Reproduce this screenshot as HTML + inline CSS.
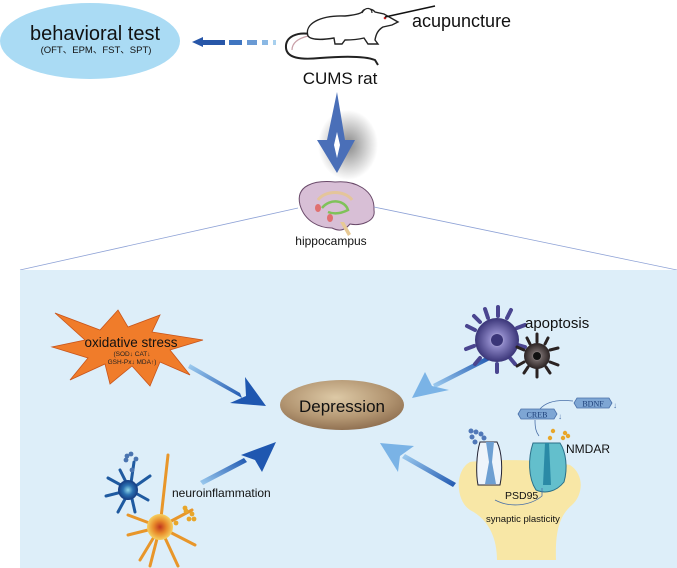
<!DOCTYPE html>
<html><head><meta charset="utf-8"><style>
html,body{margin:0;padding:0;background:#fff;}
svg{display:block;font-family:"Liberation Sans",Arial,sans-serif;}
</style></head><body>
<svg width="677" height="568" viewBox="0 0 677 568" xmlns="http://www.w3.org/2000/svg">
<defs>
<radialGradient id="dep" cx="45%" cy="35%" r="70%"><stop offset="0" stop-color="#ddc9a6"/><stop offset="0.6" stop-color="#b39672"/><stop offset="1" stop-color="#8a6a4c"/></radialGradient>
<linearGradient id="ar1" x1="0" y1="0" x2="1" y2="1"><stop offset="0" stop-color="#9fcdf0"/><stop offset="1" stop-color="#1f57b0"/></linearGradient>
<linearGradient id="ar2" x1="1" y1="0" x2="0" y2="1"><stop offset="0" stop-color="#1f57b0"/><stop offset="1" stop-color="#9fcdf0"/></linearGradient>
<linearGradient id="ar3" x1="1" y1="0" x2="0" y2="1"><stop offset="0" stop-color="#1f57b0"/><stop offset="1" stop-color="#9fcdf0"/></linearGradient>
<linearGradient id="ar4" x1="1" y1="1" x2="0" y2="0"><stop offset="0" stop-color="#1f57b0"/><stop offset="1" stop-color="#9fcdf0"/></linearGradient>
<radialGradient id="ap1"><stop offset="0" stop-color="#f0eefa"/><stop offset="0.35" stop-color="#8a84c4"/><stop offset="1" stop-color="#3a3578"/></radialGradient>
<radialGradient id="ap2"><stop offset="0" stop-color="#ddd"/><stop offset="0.4" stop-color="#6a6060"/><stop offset="1" stop-color="#2a2222"/></radialGradient>
<radialGradient id="gl1"><stop offset="0" stop-color="#8fd6e8"/><stop offset="0.5" stop-color="#2a6fb0"/><stop offset="1" stop-color="#143a80"/></radialGradient>
<radialGradient id="gl2"><stop offset="0" stop-color="#c0361e"/><stop offset="0.5" stop-color="#e88a2a"/><stop offset="1" stop-color="#f5d060"/></radialGradient>
<radialGradient id="shadow"><stop offset="0" stop-color="#555" stop-opacity="0.7"/><stop offset="1" stop-color="#555" stop-opacity="0"/></radialGradient>
</defs>

<!-- top -->
<ellipse cx="90" cy="41" rx="90" ry="38" fill="#aadbf4"/>
<text x="95" y="40" font-size="20" text-anchor="middle" fill="#111">behavioral test</text>
<text x="96" y="53" font-size="9.5" text-anchor="middle" fill="#111">(OFT、EPM、FST、SPT)</text>
<polygon points="192,42 203,37 203,47" fill="#2756a8"/>
<rect x="203" y="40" width="22" height="5" fill="#2756a8"/>
<rect x="229" y="40" width="13" height="5" fill="#3f75c0"/>
<rect x="247" y="40" width="10" height="5" fill="#6a9ad4"/>
<rect x="262" y="40" width="6" height="5" fill="#8ab8e4"/>
<rect x="273" y="40" width="3" height="5" fill="#a8d0ee"/>
<!-- rat -->
<path d="M310,34 C298,32 285,36 286,48 C287,58 300,60 320,58 C345,56 365,56 375,60 L378,65" fill="none" stroke="#222" stroke-width="2"/>
<path d="M308,36 C300,38 292,42 292,50" fill="none" stroke="#c9a0a8" stroke-width="1.2"/>
<path d="M308,36 C304,24 320,15 345,16 C355,15 360,14 362,12 C364,8 372,8 375,12 L384,14 L398,22 L392,25 L383,27 C378,30 376,34 375,40 L378,44 L368,44 L364,38 C356,40 350,40 345,40 L342,44 L335,44 L334,38 C322,40 311,40 308,36 Z" fill="#fff" stroke="#222" stroke-width="1.4"/>
<path d="M362,13 C366,6 372,8 372,13" fill="#fff" stroke="#222" stroke-width="1.2"/>
<circle cx="385" cy="18" r="1.3" fill="#c22"/>
<line x1="385" y1="17" x2="435" y2="6" stroke="#111" stroke-width="1.5"/>
<text x="412" y="27" font-size="18" fill="#111">acupuncture</text>
<text x="340" y="84" font-size="17" text-anchor="middle" fill="#111">CUMS rat</text>
<!-- big arrow -->
<ellipse cx="348" cy="145" rx="30" ry="35" fill="url(#shadow)"/>
<polygon points="337,92 345,140 355,140 337,173 317,140 327,140" fill="#4a6fb8"/>
<polygon points="337,132 340,145 337,158 334,145" fill="#fff"/>
<!-- brain -->
<path d="M300,205 C295,185 315,180 335,182 C355,180 375,190 374,210 C376,222 360,226 350,224 C345,230 340,232 332,228 C320,228 305,222 300,205 Z" fill="#d8bfd6" stroke="#6a4a6a" stroke-width="1"/>
<path d="M318,200 C325,190 345,190 352,200" fill="none" stroke="#e4c59a" stroke-width="3"/>
<path d="M322,208 C330,198 345,200 348,210 C340,214 333,214 328,212" fill="none" stroke="#7fc25a" stroke-width="2.5"/>
<ellipse cx="318" cy="208" rx="3" ry="4" fill="#e07070"/>
<ellipse cx="330" cy="218" rx="3" ry="4" fill="#e07070"/>
<path d="M340,222 L348,236 L351,234 L344,222 Z" fill="#e7c994"/>
<text x="331" y="245" font-size="12" text-anchor="middle" fill="#111">hippocampus</text>
<line x1="298" y1="208" x2="20" y2="270" stroke="#8ea2d6" stroke-width="0.8"/>
<line x1="374" y1="207" x2="677" y2="270" stroke="#8ea2d6" stroke-width="0.8"/>

<!-- panel -->
<rect x="20" y="270" width="657" height="298" fill="#ddeef9"/>

<!-- starburst -->
<polygon points="55,313 100,330 118,310 128,327 160,315 152,332 203,340 170,350 190,375 160,362 150,386 132,366 110,384 105,364 70,380 88,358 52,347 85,340" fill="#f07c2a" stroke="#c8541a" stroke-width="0.8"/>
<text x="131" y="347" font-size="13.5" text-anchor="middle" fill="#111">oxidative stress</text>
<text x="132" y="356" font-size="6.5" text-anchor="middle" fill="#222">(SOD↓ CAT↓</text>
<text x="132" y="364" font-size="6.5" text-anchor="middle" fill="#222">GSH-Px↓ MDA↑)</text>

<!-- Depression -->
<ellipse cx="342" cy="405" rx="62" ry="25" fill="url(#dep)"/>
<text x="342" y="412" font-size="17" text-anchor="middle" fill="#111">Depression</text>

<!-- arrows -->
<polygon points="190,364 240,393 242,398 188,368" fill="url(#ar1)"/>
<polygon points="245,377 266,406 230,403 246,396" fill="#1f57b0"/>
<polygon points="200,481 244,458 247,462 203,485" fill="url(#ar2)"/>
<polygon points="276,442 262,472 255,460 241,455" fill="#1f57b0"/>
<polygon points="490,360 435,388 433,384 488,356" fill="url(#ar3)"/>
<polygon points="412,398 425,372 432,386 449,390" fill="#7ab3e6"/>
<polygon points="453,487 402,458 405,454 456,483" fill="url(#ar4)"/>
<polygon points="380,443 414,446 400,456 398,472" fill="#7ab3e6"/>

<!-- apoptosis -->
<g>
<path d="M475,330 l-8,-4 M474,346 l-8,3 M480,358 l-5,6 M488,318 l-3,-9 M498,316 l0,-9 M507,318 l4,-8 M517,328 l8,-3 M518,345 l7,2 M497,364 l0,8 M510,358 l5,6 M480,322 l-6,-6" stroke="#4a4590" stroke-width="4" stroke-linecap="round"/>
<circle cx="497" cy="340" r="22" fill="url(#ap1)"/>
<circle cx="497" cy="340" r="6" fill="#3a3578"/>
<path d="M524,350 l-7,-3 M524,362 l-7,4 M530,344 l-3,-6 M537,342 l0,-8 M545,344 l3,-6 M550,350 l8,-2 M550,362 l8,3 M537,369 l0,8 M528,367 l-4,6 M546,367 l4,6" stroke="#2a2222" stroke-width="3" stroke-linecap="round"/>
<circle cx="537" cy="356" r="13" fill="url(#ap2)"/>
<circle cx="537" cy="356" r="4" fill="#111"/>
</g>
<text x="525" y="328" font-size="15" fill="#111">apoptosis</text>

<!-- BDNF / CREB -->
<path d="M577,398 l32,0 l3,5 l-3,5 l-32,0 l-3,-5 Z" fill="#7ea6d4" stroke="#4a70a8" stroke-width="0.8"/>
<text x="593" y="406.5" font-size="8" text-anchor="middle" fill="#1d3f78" font-family="Liberation Serif,serif">BDNF</text>
<text x="613" y="408" font-size="8" fill="#4a70a8">↓</text>
<path d="M521,409 l33,0 l3,5 l-3,5 l-33,0 l-3,-5 Z" fill="#7ea6d4" stroke="#4a70a8" stroke-width="0.8"/>
<text x="537" y="417.5" font-size="8" text-anchor="middle" fill="#1d3f78" font-family="Liberation Serif,serif">CREB</text>
<text x="558" y="419" font-size="8" fill="#4a70a8">↓</text>
<path d="M573,401 C555,399 545,403 540,409" fill="none" stroke="#4a70a8" stroke-width="0.8"/>
<path d="M535,420 C535,428 536,432 539,436" fill="none" stroke="#4a70a8" stroke-width="0.8"/>

<!-- synapse -->
<path d="M470,462 C480,460 540,458 570,465 C585,475 583,495 572,505 C560,515 555,530 556,560 L497,560 C497,540 490,520 470,510 C455,500 455,470 470,462 Z" fill="#f8e7a6"/>
<g fill="#5078b8">
<circle cx="471" cy="431" r="2.5"/><circle cx="476" cy="432" r="2.5"/><circle cx="481" cy="434" r="2.5"/><circle cx="484" cy="438" r="2.5"/><circle cx="472" cy="437" r="2.5"/><circle cx="475" cy="442" r="2.5"/>
</g>
<path d="M480,442 C476,455 476,475 478,485 L500,485 C503,470 502,452 497,442 Z" fill="#eef4fb" stroke="#223" stroke-width="1"/>
<path d="M486,442 L489,462 L485,484 L496,484 L492,462 L494,442" fill="#6e9fd2"/>
<path d="M533,443 C528,458 528,478 536,490 C545,494 556,492 564,482 C568,468 566,452 560,443 Z" fill="#63bfcc" stroke="#2a6f88" stroke-width="1"/>
<path d="M545,443 L543,485 L551,485 L549,443" fill="#2a8aa6"/>
<g fill="#e8a62a"><circle cx="550" cy="438" r="2.2"/><circle cx="553" cy="431" r="2.2"/><circle cx="565" cy="433" r="2.2"/><circle cx="568" cy="436" r="2.2"/><circle cx="563" cy="438" r="2.2"/></g>
<text x="566" y="453" font-size="12" fill="#111">NMDAR</text>
<text x="505" y="499" font-size="10.5" fill="#111">PSD95</text>
<path d="M495,500 C510,508 530,506 542,496 L542,488" fill="none" stroke="#4a70a8" stroke-width="0.8"/>
<text x="486" y="522" font-size="9.5" fill="#111">synaptic plasticity</text>

<!-- glia -->
<g>
<path d="M130,490 L108,478 M130,490 L120,470 M130,490 L134,462 M130,490 L150,476 M130,490 L148,500 M130,490 L118,512 M130,490 L135,512 M130,490 L106,496" stroke="#1f5aa0" stroke-width="3" stroke-linecap="round"/>
<circle cx="128" cy="490" r="10" fill="url(#gl1)"/>
<g fill="#4a74b0"><circle cx="127" cy="456" r="2.4"/><circle cx="131" cy="454" r="2.4"/><circle cx="136" cy="459" r="2.4"/><circle cx="126" cy="460" r="2.4"/><circle cx="132" cy="470" r="2.4"/></g>
</g>
<g>
<path d="M160,527 L168,455 M160,527 L128,515 M160,527 L140,560 M160,527 L150,566 M160,527 L178,566 M160,527 L195,545 M160,527 L192,510 M160,527 L128,535" stroke="#e8962a" stroke-width="3" stroke-linecap="round"/>
<circle cx="160" cy="527" r="13" fill="url(#gl2)"/>
<g fill="#e8a62a"><circle cx="186" cy="511" r="2.4"/><circle cx="192" cy="514" r="2.4"/><circle cx="194" cy="519" r="2.4"/><circle cx="189" cy="519" r="2.4"/><circle cx="176" cy="523" r="2.4"/><circle cx="185" cy="508" r="2.4"/></g>
</g>
<text x="172" y="497" font-size="12" fill="#111">neuroinflammation</text>
</svg>
</body></html>
